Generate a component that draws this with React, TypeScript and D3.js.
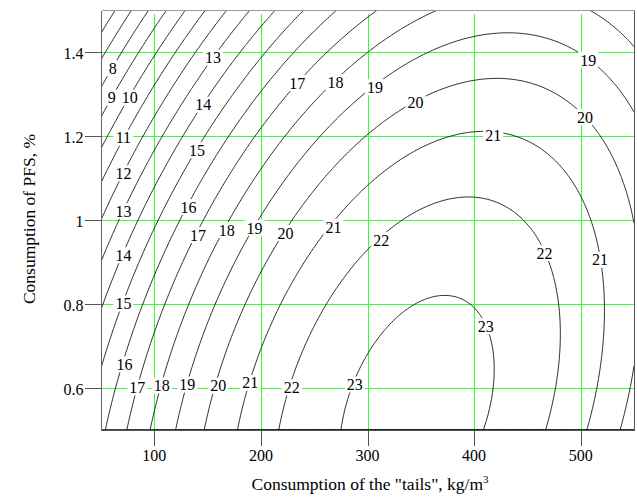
import React, { useMemo } from "react";
import * as d3 from "d3";

// axis ranges and ticks
const xDomain = [50, 550];
const yDomain = [0.5, 1.5];
const xTicks = [100, 200, 300, 400, 500];
const yTicks = [0.6, 0.8, 1, 1.2, 1.4];

// contour levels of the response surface
const levels = [5, 6, 7, 8, 9, 10, 11, 12, 13, 14, 15, 16, 17, 18, 19, 20, 21, 22, 23];

// fitted response surface (canonical form)
const peak = [23.41, 0.545]; // max value, PFS at max
const ridge = [294.5, 95]; // "tails" of ridge = a + b * PFS
const curvature = [8.93e-5, 5.45]; // across ridge, along ridge

// contour labels: level, "tails", PFS
const labels: [number, number, number][] = [
  [8, 61, 1.36],
  [9, 60, 1.29],
  [10, 77, 1.29],
  [11, 71, 1.195],
  [12, 71, 1.11],
  [13, 71, 1.02],
  [14, 71, 0.915],
  [15, 71, 0.8],
  [16, 72, 0.655],
  [17, 84, 0.6],
  [18, 107, 0.605],
  [19, 131, 0.607],
  [20, 160, 0.604],
  [21, 190, 0.611],
  [22, 229, 0.6],
  [23, 288, 0.607],
  [13, 155, 1.385],
  [14, 146, 1.273],
  [15, 140, 1.165],
  [16, 132, 1.03],
  [17, 141, 0.963],
  [18, 168, 0.975],
  [19, 194, 0.98],
  [20, 223, 0.968],
  [21, 268, 0.982],
  [22, 313, 0.951],
  [17, 234, 1.325],
  [18, 270, 1.327],
  [19, 307, 1.315],
  [20, 345, 1.28],
  [21, 418, 1.2],
  [19, 507, 1.38],
  [20, 504, 1.244],
  [22, 466, 0.92],
  [21, 518, 0.904],
  [23, 411, 0.746],
];

const response = (t: number, p: number) => {
  const xr = ridge[0] + ridge[1] * p;
  return peak[0] - curvature[0] * (t - xr) ** 2 - curvature[1] * (p - peak[1]) ** 2;
};

const font = "Liberation Serif, Times New Roman, Times, serif";
const gridColor = "#33ff33";
const snap = (v: number) => Math.round(v) + 0.5;

export default function App() {
  const x = d3.scaleLinear().domain(xDomain).range([101, 634]);
  const y = d3.scaleLinear().domain(yDomain).range([429.5, 9.5]);

  const paths = useMemo(() => {
    const nx = 300;
    const ny = 240;
    const sx = (xDomain[1] - xDomain[0]) / (nx - 1);
    const sy = (yDomain[1] - yDomain[0]) / (ny - 1);
    const values = new Array(nx * ny);
    for (let j = 0; j < ny; j++) {
      for (let i = 0; i < nx; i++) {
        values[j * nx + i] = response(xDomain[0] + i * sx, yDomain[0] + j * sy);
      }
    }
    const proj = d3.geoTransform({
      point(px: number, py: number) {
        this.stream.point(x(xDomain[0] + (px - 0.5) * sx), y(yDomain[0] + (py - 0.5) * sy));
      },
    });
    const path = d3.geoPath(proj);
    return d3
      .contours()
      .size([nx, ny])
      .thresholds(levels)(values)
      .map((c) => ({ value: c.value, d: path(c as any) || "" }));
  }, []);

  const x0 = snap(x.range()[0]);
  const x1 = snap(x.range()[1]);
  const y0 = snap(y.range()[0]);
  const y1 = snap(y.range()[1]);

  return (
    <svg
      width={637}
      height={497}
      style={{ position: "absolute", left: 0, top: 0, background: "#fff", fontFamily: font }}
    >
      <defs>
        <clipPath id="plot">
          <rect x={x0} y={y1} width={x1 - x0} height={y0 - y1} />
        </clipPath>
      </defs>

      {/* grid */}
      <g shapeRendering="crispEdges">
        {xTicks.map((t) => (
          <line key={"gx" + t} x1={snap(x(t))} x2={snap(x(t))} y1={y1 + 3} y2={y0} stroke={gridColor} />
        ))}
        {yTicks.map((t) => (
          <line key={"gy" + t} x1={x0} x2={x1} y1={snap(y(t))} y2={snap(y(t))} stroke={gridColor} />
        ))}
      </g>

      {/* contours */}
      <g clipPath="url(#plot)">
        {paths.map((p) => (
          <path key={p.value} d={p.d} fill="none" stroke="#111" strokeWidth={0.9} />
        ))}
      </g>

      {/* contour labels */}
      {labels.map(([v, lx, ly], k) => {
        const w = String(v).length * 8.5 + 3;
        return (
          <g key={"l" + k}>
            <rect x={x(lx) - w / 2} y={y(ly) - 8} width={w} height={16} fill="#fff" />
            <text x={x(lx)} y={y(ly)} dy="0.35em" textAnchor="middle" fontSize={16} fill="#000">
              {v}
            </text>
          </g>
        );
      })}

      {/* frame */}
      <g shapeRendering="crispEdges">
        <line x1={x0} x2={x1} y1={y1} y2={y1} stroke="#999" />
        <line x1={x1} x2={x1} y1={y1} y2={y0} stroke="#555" />
        <line x1={x0} x2={x0} y1={y1} y2={y0} stroke="#666" />
        <line x1={x0} x2={x1} y1={y0} y2={y0} stroke="#555" />
      </g>

      {/* x axis */}
      {xTicks.map((t) => (
        <g key={"tx" + t}>
          <line
            x1={snap(x(t))}
            x2={snap(x(t))}
            y1={y0}
            y2={y0 + 15}
            stroke="#555"
            shapeRendering="crispEdges"
          />
          <text x={x(t)} y={y0 + 30} textAnchor="middle" fontSize={16} fill="#000">
            {t}
          </text>
        </g>
      ))}
      {/* y axis */}
      {yTicks.map((t) => (
        <g key={"ty" + t}>
          <line
            x1={x0 - 17}
            x2={x0}
            y1={snap(y(t))}
            y2={snap(y(t))}
            stroke="#555"
            shapeRendering="crispEdges"
          />
          <text x={x0 - 18} y={y(t) + 7} textAnchor="end" fontSize={16} fill="#000">
            {d3.format("~g")(t)}
          </text>
        </g>
      ))}

      {/* titles */}
      <text x={370} y={490} textAnchor="middle" fontSize={17.5} fill="#000">
        Consumption of the "tails", kg/m
        <tspan dy={-7} fontSize={11}>
          3
        </tspan>
      </text>
      <text transform="translate(35,219) rotate(-90)" textAnchor="middle" fontSize={17.5} fill="#000">
        Consumption of PFS, %
      </text>
    </svg>
  );
}
